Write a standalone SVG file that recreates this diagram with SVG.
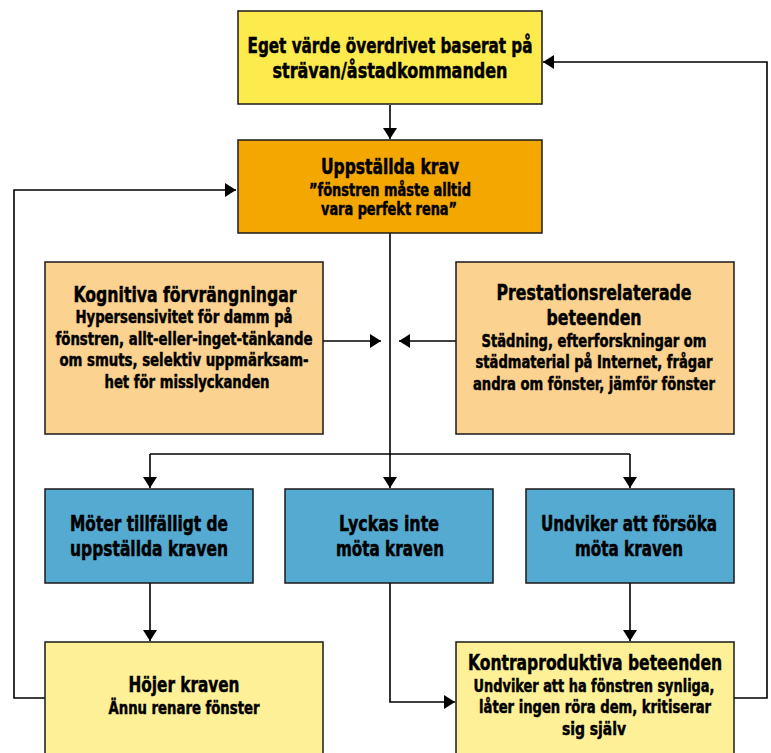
<svg xmlns="http://www.w3.org/2000/svg" width="771" height="753" viewBox="0 0 771 753">
<defs>
<style>
.box{stroke:#1a1a1a;stroke-width:1.5}
.t{font-family:"DejaVu Sans","Liberation Sans",sans-serif;font-stretch:condensed;font-weight:bold;fill:#000;stroke:#000;stroke-width:0.5;text-anchor:middle}
.h{font-size:22px}
.b{font-size:18px}
.c{fill:none;stroke:#000;stroke-width:1.6}
</style>
<marker id="ah" markerUnits="userSpaceOnUse" markerWidth="12" markerHeight="15" refX="11" refY="7" orient="auto">
<path d="M0,0 L11,7 L0,14 Z" fill="#000"/>
</marker>
</defs>
<rect width="771" height="753" fill="#fff"/>

<g id="connectors">
<line class="c" x1="390" y1="105" x2="390" y2="139" marker-end="url(#ah)"/>
<polyline class="c" points="390,233 390,454"/>
<polyline class="c" points="150,454 630,454"/>
<line class="c" x1="150" y1="454" x2="150" y2="488" marker-end="url(#ah)"/>
<line class="c" x1="390" y1="454" x2="390" y2="488" marker-end="url(#ah)"/>
<line class="c" x1="630" y1="454" x2="630" y2="488" marker-end="url(#ah)"/>
<line class="c" x1="323" y1="341" x2="381" y2="341" marker-end="url(#ah)"/>
<line class="c" x1="456" y1="341" x2="399" y2="341" marker-end="url(#ah)"/>
<line class="c" x1="150" y1="583" x2="150" y2="641" marker-end="url(#ah)"/>
<line class="c" x1="630" y1="583" x2="630" y2="641" marker-end="url(#ah)"/>
<polyline class="c" points="390,583 390,702 455,702" marker-end="url(#ah)"/>
<polyline class="c" points="45,698 14,698 14,190 236,190" marker-end="url(#ah)"/>
<polyline class="c" points="734,698 767,698 767,62 543,62" marker-end="url(#ah)"/>
</g>

<g id="n-egetvarde">
<rect class="box" x="238" y="11" width="304" height="93" fill="#FDEB4E"/>
<text class="t h" x="390" y="53" textLength="285" lengthAdjust="spacingAndGlyphs">Eget värde överdrivet baserat på</text>
<text class="t h" x="390" y="78" textLength="235" lengthAdjust="spacingAndGlyphs">strävan/åstadkommanden</text>
</g>

<g id="n-krav">
<rect class="box" x="238" y="140" width="304" height="93" fill="#F4A701"/>
<text class="t h" x="390" y="174" textLength="138" lengthAdjust="spacingAndGlyphs">Uppställda krav</text>
<text class="t b" x="390" y="196" textLength="162" lengthAdjust="spacingAndGlyphs">”fönstren måste alltid</text>
<text class="t b" x="389" y="215" textLength="136" lengthAdjust="spacingAndGlyphs">vara perfekt rena”</text>
</g>

<g id="n-kognitiva">
<rect class="box" x="45" y="262" width="278" height="172" fill="#FCD290"/>
<text class="t h" x="185" y="302" textLength="223" lengthAdjust="spacingAndGlyphs">Kognitiva förvrängningar</text>
<text class="t b" x="184" y="323" textLength="217" lengthAdjust="spacingAndGlyphs">Hypersensivitet för damm på</text>
<text class="t b" x="184" y="345" textLength="257" lengthAdjust="spacingAndGlyphs">fönstren, allt-eller-inget-tänkande</text>
<text class="t b" x="184" y="366" textLength="249" lengthAdjust="spacingAndGlyphs">om smuts, selektiv uppmärksam-</text>
<text class="t b" x="187" y="388" textLength="165" lengthAdjust="spacingAndGlyphs">het för misslyckanden</text>
</g>

<g id="n-prestation">
<rect class="box" x="456" y="262" width="278" height="172" fill="#FCD290"/>
<text class="t h" x="594" y="300" textLength="195" lengthAdjust="spacingAndGlyphs">Prestationsrelaterade</text>
<text class="t h" x="594" y="325" textLength="95" lengthAdjust="spacingAndGlyphs">beteenden</text>
<text class="t b" x="594" y="347" textLength="225" lengthAdjust="spacingAndGlyphs">Städning, efterforskningar om</text>
<text class="t b" x="594" y="368" textLength="237" lengthAdjust="spacingAndGlyphs">städmaterial på Internet, frågar</text>
<text class="t b" x="594" y="390" textLength="242" lengthAdjust="spacingAndGlyphs">andra om fönster, jämför fönster</text>
</g>

<g id="n-moter">
<rect class="box" x="45" y="489" width="208" height="94" fill="#54AAD0"/>
<text class="t h" x="149" y="531" textLength="158" lengthAdjust="spacingAndGlyphs">Möter tillfälligt de</text>
<text class="t h" x="149" y="556" textLength="158" lengthAdjust="spacingAndGlyphs">uppställda kraven</text>
</g>

<g id="n-lyckas">
<rect class="box" x="285" y="489" width="208" height="94" fill="#54AAD0"/>
<text class="t h" x="389" y="531" textLength="100" lengthAdjust="spacingAndGlyphs">Lyckas inte</text>
<text class="t h" x="390" y="556" textLength="108" lengthAdjust="spacingAndGlyphs">möta kraven</text>
</g>

<g id="n-undviker">
<rect class="box" x="526" y="489" width="208" height="94" fill="#54AAD0"/>
<text class="t h" x="629" y="531" textLength="176" lengthAdjust="spacingAndGlyphs">Undviker att försöka</text>
<text class="t h" x="629" y="556" textLength="108" lengthAdjust="spacingAndGlyphs">möta kraven</text>
</g>

<g id="n-hojer">
<rect class="box" x="45" y="642" width="278" height="120" fill="#FEF097"/>
<text class="t h" x="184" y="692" textLength="111" lengthAdjust="spacingAndGlyphs">Höjer kraven</text>
<text class="t b" x="184" y="714" textLength="151" lengthAdjust="spacingAndGlyphs">Ännu renare fönster</text>
</g>

<g id="n-kontra">
<rect class="box" x="456" y="642" width="278" height="120" fill="#FEF097"/>
<g transform="translate(595,0) scale(0.8,1)">
<text class="t h" x="0" y="670" textLength="317.5" lengthAdjust="spacingAndGlyphs">Kontraproduktiva beteenden</text>
<text class="t b" x="-1.25" y="692" textLength="301" lengthAdjust="spacingAndGlyphs">Undviker att ha fönstren synliga,</text>
<text class="t b" x="0" y="713" textLength="290" lengthAdjust="spacingAndGlyphs">låter ingen röra dem, kritiserar</text>
<text class="t b" x="-1.25" y="735" textLength="80" lengthAdjust="spacingAndGlyphs">sig själv</text>
</g>
</g>
</svg>
